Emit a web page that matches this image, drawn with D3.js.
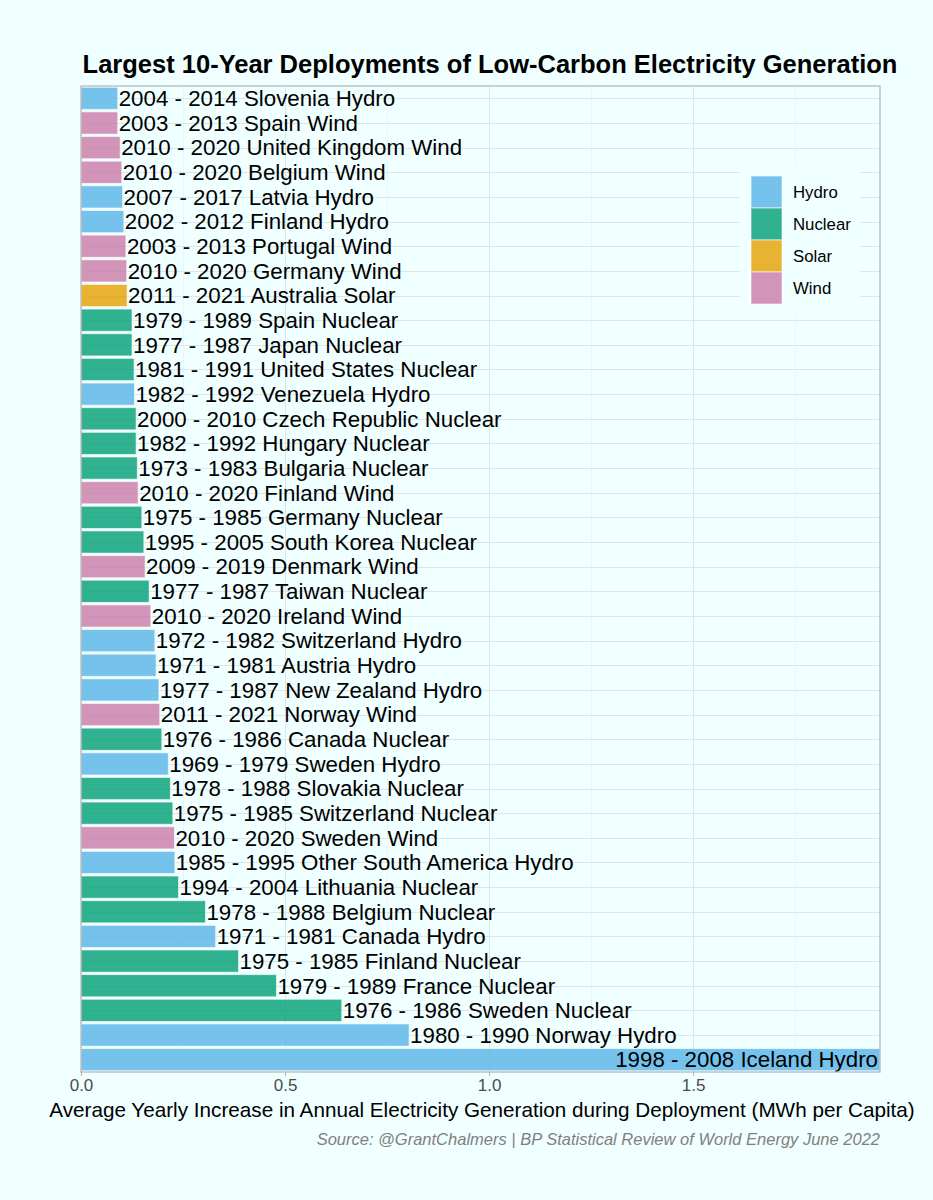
<!DOCTYPE html>
<html lang="en">
<head>
<meta charset="utf-8">
<title>Largest 10-Year Deployments</title>
<script src="https://cdn.jsdelivr.net/npm/d3@7"></script>
<style>
  body {
    margin: 0;
    background: #f0ffff;
    font-family: "Liberation Sans", Arial, sans-serif;
  }
  .grid line { shape-rendering: crispEdges; }
</style>
</head>
<body>
<div id="vis"></div>
<script>

/* Data, top bar first */
/* =================== */

var periods = [
  '2004 - 2014', '2003 - 2013', '2010 - 2020', '2010 - 2020', '2007 - 2017',
  '2002 - 2012', '2003 - 2013', '2010 - 2020', '2011 - 2021', '1979 - 1989',
  '1977 - 1987', '1981 - 1991', '1982 - 1992', '2000 - 2010', '1982 - 1992',
  '1973 - 1983', '2010 - 2020', '1975 - 1985', '1995 - 2005', '2009 - 2019',
  '1977 - 1987', '2010 - 2020', '1972 - 1982', '1971 - 1981', '1977 - 1987',
  '2011 - 2021', '1976 - 1986', '1969 - 1979', '1978 - 1988', '1975 - 1985',
  '2010 - 2020', '1985 - 1995', '1994 - 2004', '1978 - 1988', '1971 - 1981',
  '1975 - 1985', '1979 - 1989', '1976 - 1986', '1980 - 1990', '1998 - 2008'
];

var countries = [
  'Slovenia', 'Spain', 'United Kingdom', 'Belgium', 'Latvia',
  'Finland', 'Portugal', 'Germany', 'Australia', 'Spain',
  'Japan', 'United States', 'Venezuela', 'Czech Republic', 'Hungary',
  'Bulgaria', 'Finland', 'Germany', 'South Korea', 'Denmark',
  'Taiwan', 'Ireland', 'Switzerland', 'Austria', 'New Zealand',
  'Norway', 'Canada', 'Sweden', 'Slovakia', 'Switzerland',
  'Sweden', 'Other South America', 'Lithuania', 'Belgium', 'Canada',
  'Finland', 'France', 'Sweden', 'Norway', 'Iceland'
];

var sources = [
  'Hydro', 'Wind', 'Wind', 'Wind', 'Hydro',
  'Hydro', 'Wind', 'Wind', 'Solar', 'Nuclear',
  'Nuclear', 'Nuclear', 'Hydro', 'Nuclear', 'Nuclear',
  'Nuclear', 'Wind', 'Nuclear', 'Nuclear', 'Wind',
  'Nuclear', 'Wind', 'Hydro', 'Hydro', 'Hydro',
  'Wind', 'Nuclear', 'Hydro', 'Nuclear', 'Nuclear',
  'Wind', 'Hydro', 'Nuclear', 'Nuclear', 'Hydro',
  'Nuclear', 'Nuclear', 'Nuclear', 'Hydro', 'Hydro'
];

// MWh per capita, average yearly increase
var values = [
  0.090, 0.090, 0.096, 0.100, 0.102,
  0.105, 0.110, 0.112, 0.113, 0.125,
  0.125, 0.130, 0.131, 0.135, 0.135,
  0.138, 0.140, 0.149, 0.154, 0.157,
  0.167, 0.171, 0.181, 0.184, 0.191,
  0.193, 0.198, 0.214, 0.219, 0.225,
  0.229, 0.230, 0.239, 0.305, 0.330,
  0.386, 0.479, 0.639, 0.804, 1.958
];

var legendKeys = ['Hydro', 'Nuclear', 'Solar', 'Wind'];
var legendColours = ['#56B4E9', '#009E73', '#E69F00', '#CC79A7'];
var xTicks = [0, 0.5, 1, 1.5];
var xMinor = [0.25, 0.75, 1.25, 1.75];


/* Set up */
/* ====== */

var width = 933, height = 1200;
var plot = { left: 81, right: 880, top: 86, bottom: 1072 };

var data = periods.map(function(p, i) {
  return {
    label: p + ' ' + countries[i] + ' ' + sources[i],
    source: sources[i],
    value: values[i]
  };
});

var svg = d3.select('#vis').append('svg')
    .attr('width', width)
    .attr('height', height);

svg.append('rect')
    .attr('width', width)
    .attr('height', height)
    .attr('fill', '#f0ffff');

var xScale = d3.scaleLinear()
    .domain([0, d3.max(values)])
    .range([plot.left, plot.right]);

var yScale = d3.scaleBand()
    .domain(d3.range(data.length))
    .range([plot.top, plot.bottom])
    .paddingInner(0.1)
    .paddingOuter(0.05);

var colour = d3.scaleOrdinal()
    .domain(legendKeys)
    .range(legendColours);


/* Grid */
/* ---- */

var grid = svg.append('g').attr('class', 'grid');

grid.selectAll('.minor')
  .data(xMinor).enter()
  .append('line')
    .attr('x1', function(d) { return xScale(d); })
    .attr('x2', function(d) { return xScale(d); })
    .attr('y1', plot.top)
    .attr('y2', plot.bottom)
    .attr('stroke', '#e6eeee')
    .attr('stroke-width', 0.6);

grid.selectAll('.major')
  .data(xTicks).enter()
  .append('line')
    .attr('x1', function(d) { return xScale(d); })
    .attr('x2', function(d) { return xScale(d); })
    .attr('y1', plot.top)
    .attr('y2', plot.bottom)
    .attr('stroke', '#dde6e6')
    .attr('stroke-width', 1);

grid.selectAll('.hline')
  .data(data).enter()
  .append('line')
    .attr('x1', plot.left)
    .attr('x2', plot.right)
    .attr('y1', function(d, i) { return Math.round(yScale(i) + yScale.bandwidth() / 2) + 0.5; })
    .attr('y2', function(d, i) { return Math.round(yScale(i) + yScale.bandwidth() / 2) + 0.5; })
    .attr('stroke', '#dde6e6')
    .attr('stroke-width', 1);


/* Bars */
/* ---- */

svg.append('g').selectAll('rect')
  .data(data).enter()
  .append('rect')
    .attr('x', xScale(0))
    .attr('y', function(d, i) { return yScale(i); })
    .attr('width', function(d) { return xScale(d.value) - xScale(0); })
    .attr('height', yScale.bandwidth())
    .attr('fill', function(d) { return colour(d.source); })
    .attr('fill-opacity', 0.8)
    .attr('stroke', '#ffffff')
    .attr('stroke-opacity', 0.6)
    .attr('stroke-width', 1);


/* Labels */
/* ------ */

svg.append('g').selectAll('text')
  .data(data).enter()
  .append('text')
    .attr('x', function(d) {
      // the longest bar keeps its label inside, right aligned
      return d.value > 1.5 ? xScale(d.value) - 2 : xScale(d.value) + 1;
    })
    .attr('y', function(d, i) { return yScale(i) + yScale.bandwidth() / 2; })
    .attr('dy', '0.35em')
    .attr('text-anchor', function(d) { return d.value > 1.5 ? 'end' : 'start'; })
    .style('font-size', '22.3px')
    .attr('fill', '#000')
    .text(function(d) { return d.label; });


/* Panel border */

svg.append('rect')
    .attr('x', plot.left)
    .attr('y', plot.top)
    .attr('width', plot.right - plot.left)
    .attr('height', plot.bottom - plot.top)
    .attr('fill', 'none')
    .attr('stroke', '#b3b3b3')
    .attr('stroke-width', 1.2);


/* Axis */
/* ---- */

var xAxis = d3.axisBottom(xScale)
    .tickValues(xTicks)
    .tickSize(4)
    .tickPadding(3)
    .tickFormat(d3.format('.1f'));

var xAxisDraw = svg.append('g')
    .attr('class', 'x axis')
    .attr('transform', 'translate(0,' + plot.bottom + ')')
    .call(xAxis);

xAxisDraw.select('.domain').remove();
xAxisDraw.selectAll('.tick line').attr('stroke', '#b3b3b3');
xAxisDraw.selectAll('.tick text')
    .attr('fill', '#4d4d4d')
    .style('font-family', '"Liberation Sans", Arial, sans-serif')
    .style('font-size', '17px');

svg.append('text')
    .attr('x', 482)
    .attr('y', 1117)
    .attr('text-anchor', 'middle')
    .style('font-size', '20.7px')
    .attr('fill', '#000')
    .text('Average Yearly Increase in Annual Electricity Generation during Deployment (MWh per Capita)');

svg.append('text')
    .attr('x', plot.right)
    .attr('y', 1145)
    .attr('text-anchor', 'end')
    .style('font-size', '16.5px')
    .style('font-style', 'italic')
    .attr('fill', '#808080')
    .text('Source: @GrantChalmers | BP Statistical Review of World Energy June 2022');


/* Title */

svg.append('text')
    .attr('x', 490)
    .attr('y', 73)
    .attr('text-anchor', 'middle')
    .style('font-size', '25.5px')
    .style('font-weight', 'bold')
    .attr('fill', '#000')
    .text('Largest 10-Year Deployments of Low-Carbon Electricity Generation');


/* Legend */
/* ------ */

var legend = svg.append('g')
    .attr('transform', 'translate(740, 166)');

legend.append('rect')
    .attr('width', 120)
    .attr('height', 147)
    .attr('fill', '#f0ffff');

var keyH = 32;

legend.selectAll('.key')
  .data(legendKeys).enter()
  .append('rect')
    .attr('x', 11)
    .attr('y', function(d, i) { return 10 + i * keyH; })
    .attr('width', 31)
    .attr('height', keyH)
    .attr('fill', function(d) { return colour(d); })
    .attr('fill-opacity', 0.8)
    .attr('stroke', '#ffffff')
    .attr('stroke-opacity', 0.6);

legend.selectAll('.keytext')
  .data(legendKeys).enter()
  .append('text')
    .attr('x', 53)
    .attr('y', function(d, i) { return 10 + i * keyH + keyH / 2; })
    .attr('dy', '0.35em')
    .style('font-size', '16.8px')
    .attr('fill', '#000')
    .text(function(d) { return d; });

</script>
</body>
</html>
